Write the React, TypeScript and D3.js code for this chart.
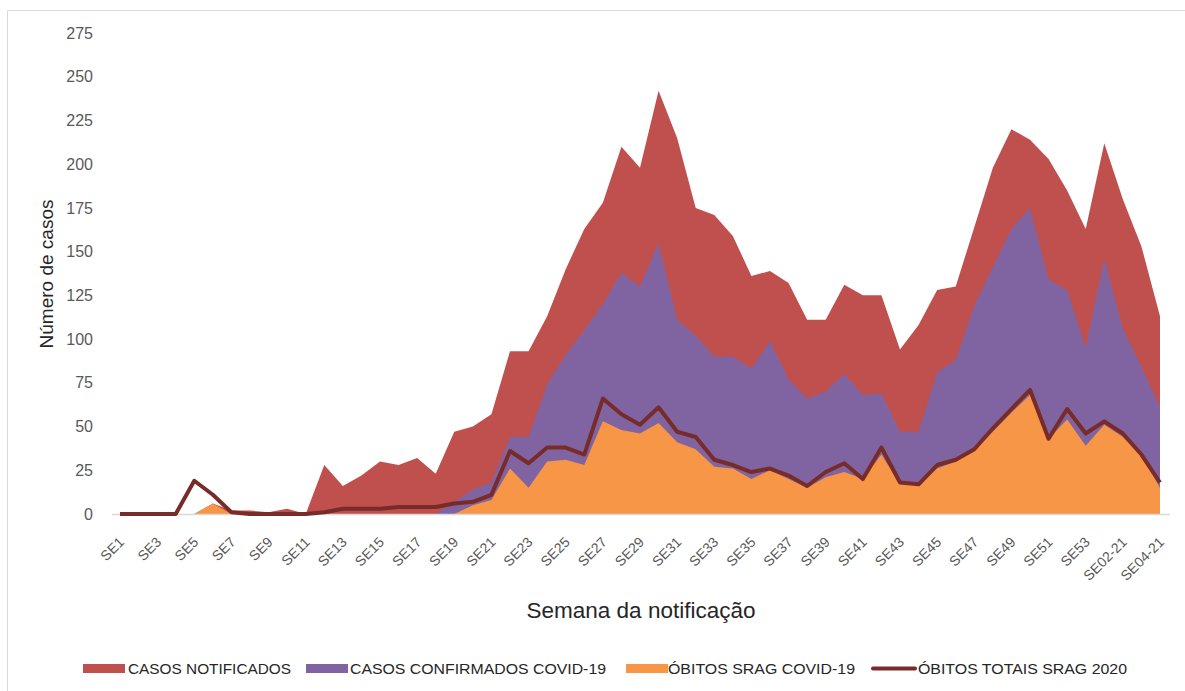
import React from 'react';
import * as d3 from 'd3';

const weeks = [
  'SE1', 'SE2', 'SE3', 'SE4', 'SE5', 'SE6', 'SE7', 'SE8', 'SE9', 'SE10',
  'SE11', 'SE12', 'SE13', 'SE14', 'SE15', 'SE16', 'SE17', 'SE18', 'SE19', 'SE20',
  'SE21', 'SE22', 'SE23', 'SE24', 'SE25', 'SE26', 'SE27', 'SE28', 'SE29', 'SE30',
  'SE31', 'SE32', 'SE33', 'SE34', 'SE35', 'SE36', 'SE37', 'SE38', 'SE39', 'SE40',
  'SE41', 'SE42', 'SE43', 'SE44', 'SE45', 'SE46', 'SE47', 'SE48', 'SE49', 'SE50',
  'SE51', 'SE52', 'SE53', 'SE01-21', 'SE02-21', 'SE03-21', 'SE04-21',
];

const casosNotificados = [
  0, 0, 0, 0, 0, 6, 2, 2, 1, 3,
  0, 28, 16, 22, 30, 28, 32, 23, 47, 50,
  57, 93, 93, 113, 140, 163, 178, 210, 198, 242,
  215, 175, 171, 159, 136, 139, 132, 111, 111, 131,
  125, 125, 94, 108, 128, 130, 164, 198, 220, 214,
  203, 185, 163, 212, 180, 153, 113,
];

const casosConfirmados = [
  0, 0, 0, 0, 0, 0, 0, 0, 0, 0,
  0, 0, 0, 0, 0, 0, 0, 0, 7, 14,
  18, 44, 44, 74, 91, 105, 120, 138, 130, 155,
  111, 102, 90, 90, 83, 99, 77, 66, 70, 80,
  68, 69, 47, 47, 81, 88, 119, 141, 163, 175,
  134, 128, 95, 146, 106, 84, 61,
];

const obitosCovid = [
  0, 0, 0, 0, 0, 6, 0, 0, 0, 0,
  0, 0, 0, 0, 0, 0, 0, 0, 0, 5,
  8, 26, 15, 30, 31, 28, 53, 48, 46, 52,
  41, 37, 27, 26, 20, 25, 20, 15, 21, 24,
  20, 34, 17, 17, 26, 30, 36, 47, 58, 68,
  43, 54, 39, 51, 44, 33, 15,
];

const obitosTotais = [
  0, 0, 0, 0, 19, 11, 1, 0, 0, 0,
  0, 1, 3, 3, 3, 4, 4, 4, 6, 7,
  11, 36, 29, 38, 38, 34, 66, 57, 51, 61,
  47, 44, 31, 28, 24, 26, 22, 16, 24, 29,
  20, 38, 18, 17, 28, 31, 37, 49, 60, 71,
  43, 60, 46, 53, 46, 34, 18,
];

const yTicks = [0, 25, 50, 75, 100, 125, 150, 175, 200, 225, 250, 275];

const legendLabels = [
  'CASOS NOTIFICADOS',
  'CASOS CONFIRMADOS COVID-19',
  'ÓBITOS SRAG COVID-19',
  'ÓBITOS TOTAIS SRAG 2020',
];

const COLORS = {
  notificados: '#C0504D',
  confirmados: '#8064A2',
  obitos: '#F79646',
  totais: '#772C2A',
};

const W = 1185;
const H = 691;
const FONT = '"Liberation Sans", Arial, sans-serif';

export default function App() {
  const x = d3.scalePoint<string>().domain(weeks).range([120, 1160]);
  const y = d3.scaleLinear().domain([0, 275]).range([514, 33]);

  const area = d3
    .area<number>()
    .x((_, i) => x(weeks[i]) as number)
    .y0(y(0))
    .y1((d) => y(d));

  const line = d3
    .line<number>()
    .x((_, i) => x(weeks[i]) as number)
    .y((d) => y(d));

  const labeledWeeks = weeks.filter((_, i) => i % 2 === 0);

  const legendItems = [
    { label: legendLabels[0], color: COLORS.notificados, sx: 83, tx: 128, tl: 163, kind: 'rect' },
    { label: legendLabels[1], color: COLORS.confirmados, sx: 306, tx: 350, tl: 256, kind: 'rect' },
    { label: legendLabels[2], color: COLORS.obitos, sx: 626, tx: 668, tl: 187, kind: 'rect' },
    { label: legendLabels[3], color: COLORS.totais, sx: 873, tx: 918, tl: 209, kind: 'line' },
  ];

  return (
    <svg
      width={W}
      height={H}
      style={{ position: 'absolute', left: 0, top: 0, background: '#fff' }}
      fontFamily={FONT}
    >
      <rect x={0} y={0} width={W} height={H} fill="#fff" />
      {/* chart border */}
      <path d={`M7.5,${H + 5} V10.5 H${W + 5}`} fill="none" stroke="#D9D9D9" strokeWidth={1} />

      {/* y tick labels */}
      {yTicks.map((t) => (
        <text
          key={t}
          x={93}
          y={y(t)}
          dy="0.35em"
          textAnchor="end"
          fontSize={16}
          fill="#595959"
        >
          {t}
        </text>
      ))}

      {/* areas */}
      <path d={area(casosNotificados) || ''} fill={COLORS.notificados} />
      <path d={area(casosConfirmados) || ''} fill={COLORS.confirmados} />
      <path d={area(obitosCovid) || ''} fill={COLORS.obitos} />

      {/* x axis line */}
      <line x1={112} x2={1170} y1={514.5} y2={514.5} stroke="#D9D9D9" strokeWidth={1.5} />

      {/* line series */}
      <path
        d={line(obitosTotais) || ''}
        fill="none"
        stroke={COLORS.totais}
        strokeWidth={4}
        strokeLinejoin="round"
      />

      {/* x tick labels */}
      {labeledWeeks.map((w) => {
        const px = (x(w) as number) + 5;
        const py = 543;
        return (
          <text
            key={w}
            x={px}
            y={py}
            transform={`rotate(-45, ${px}, ${py})`}
            textAnchor="end"
            fontSize={14}
            fill="#595959"
          >
            {w}
          </text>
        );
      })}

      {/* axis titles */}
      <text
        transform={`translate(53, 274) rotate(-90)`}
        textAnchor="middle"
        fontSize={19}
        fill="#262626"
      >
        Número de casos
      </text>
      <text x={641} y={618} textAnchor="middle" fontSize={22.5} fill="#262626">
        Semana da notificação
      </text>

      {/* legend */}
      {legendItems.map((it) => (
        <g key={it.label}>
          {it.kind === 'rect' ? (
            <rect x={it.sx} y={664} width={42} height={9} fill={it.color} />
          ) : (
            <line x1={it.sx} x2={it.sx + 42} y1={668.5} y2={668.5} stroke={it.color} strokeWidth={4} strokeLinecap="round" />
          )}
          <text
            x={it.tx}
            y={674}
            fontSize={15}
            fill="#262626"
            textLength={it.tl}
            lengthAdjust="spacingAndGlyphs"
          >
            {it.label}
          </text>
        </g>
      ))}
    </svg>
  );
}
